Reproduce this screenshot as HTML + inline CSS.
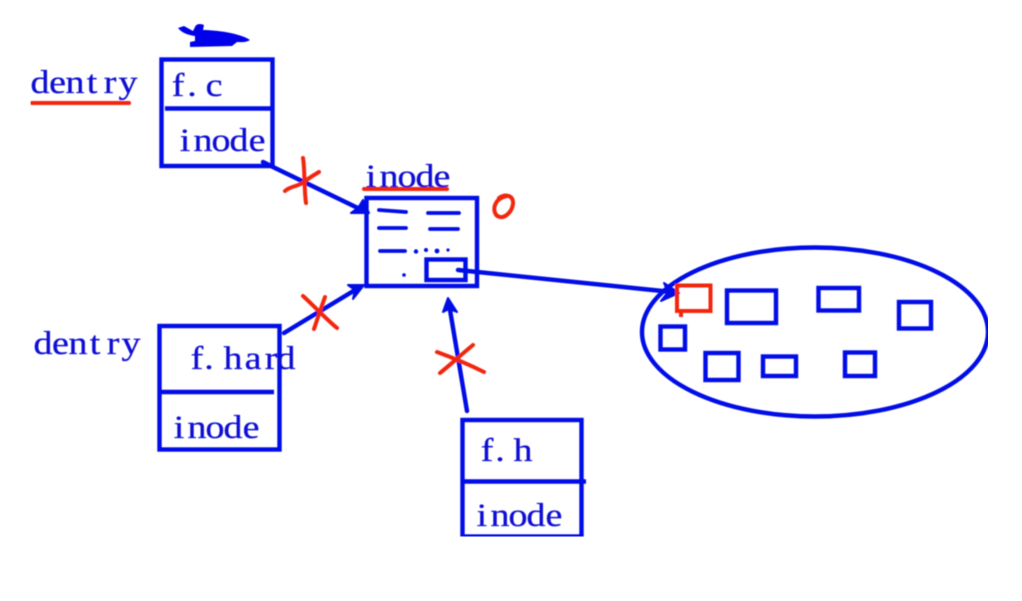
<!DOCTYPE html>
<html><head><meta charset="utf-8"><style>
html,body{margin:0;padding:0;background:#fff;width:1022px;height:601px;overflow:hidden}
svg{display:block}
text{font-family:"Liberation Serif",serif;font-size:33px;fill:#1010d4;stroke:#1010d4;stroke-width:.3px;text-anchor:middle}
</style></head><body>
<svg width="1022" height="601" viewBox="0 0 1022 601">
<defs><filter id="b" x="0" y="0" width="100%" height="100%"><feGaussianBlur stdDeviation="0.55"/></filter></defs>
<rect width="1022" height="601" fill="#fff"/>
<g filter="url(#b)">

<!-- top scribble -->
<path d="M178 28L184 26L193 31L195 27C196 24 200 23 204 25L203 30C215 30 240 33 250 40C245 43 240 42 237 42L232 46L190 47L190 42L195 41L195 36C188 35 182 33 178 28Z" fill="#0000ea"/>

<g fill="none" stroke="#0008e6" stroke-width="4.4">
<!-- f.c -->
<rect x="161.5" y="59.5" width="111" height="106.5"/>
<path d="M165 108.5H272"/>
<!-- f.hard -->
<rect x="159.5" y="326" width="120" height="123.5"/>
<path d="M160 392H274"/>
<!-- f.h -->
<rect x="462.5" y="420" width="119" height="116.5"/>
<path d="M463 481.5H586"/>
<!-- inode -->
<rect x="366.5" y="198" width="110.5" height="88"/>
<rect x="426.5" y="259.5" width="39" height="20.5"/>
<!-- ellipse -->
<ellipse cx="815" cy="332" rx="173" ry="84.5"/>
<!-- small rects -->
<rect x="727" y="290.5" width="49" height="32.5"/>
<rect x="818.5" y="288" width="40.5" height="22.5"/>
<rect x="899" y="302" width="32" height="26.5"/>
<rect x="660.5" y="326.5" width="24.5" height="23"/>
<rect x="705.5" y="353" width="33" height="27"/>
<rect x="763" y="356.5" width="33" height="19.5"/>
<rect x="845" y="352.5" width="30" height="23.5"/>
</g>

<!-- inode inner marks -->
<g fill="none" stroke="#0008e6" stroke-width="3.8" stroke-linecap="round">
<path d="M379 210L406 212M428 213H459M379 228H406M430 229H458M380 251H405"/>
</g>
<g fill="#0008e6">
<circle cx="416" cy="251.5" r="2.2"/><circle cx="426" cy="250" r="2"/><circle cx="437" cy="251" r="2.4"/><circle cx="448" cy="250" r="1.6"/><circle cx="404" cy="275" r="1.8"/>
</g>

<!-- arrows -->
<g fill="none" stroke="#0008e6" stroke-width="4.4" stroke-linecap="round">
<path d="M263 162L273 167L364 211"/>
<path d="M284 333L360 287"/>
<path d="M467 411L449 304"/>
<path d="M458 270L672 292"/>
</g>
<g fill="#0008e6" stroke="#0008e6" stroke-width="2" stroke-linejoin="round">
<path d="M369 213L351 213L358 208L363 200Z"/>
<path d="M364 285L348 285L355 290L353 299Z"/>
<path d="M448 298L443 312L449 309L457 312Z"/>
<path d="M679 293L664 283L668 292L661 301Z"/>
</g>

<!-- red rect -->
<path d="M677 285.5H710.5V311H677ZM681 311V317" fill="none" stroke="#f2250f" stroke-width="4"/>

<!-- red marks -->
<g fill="none" stroke="#f2250f" stroke-width="4" stroke-linecap="round" stroke-linejoin="round">
<path d="M32 103H129"/>
<path d="M364 189H447"/>
<path d="M303 158C305 170 304 190 306 203"/>
<path d="M285 191C290 186 297 187 304 182C310 177 314 175 319 172"/>
<path d="M303 296C312 304 327 320 337 328"/>
<path d="M325 297C321 308 317 320 314 329"/>
<path d="M437 352C448 356 466 363 484 372"/>
<path d="M473 345C462 354 450 365 440 373"/>
<path d="M499 198C506 193 514 196 513 204C512 212 505 218 500 217C494 216 493 208 496 203C498 199 502 197 507 196"/>
</g>

<!-- labels: glyphs widened 15% with per-character placement -->
<g transform="scale(1.15 1)">
<text x="34.8 50 65.2 80 95.7 111.3" y="93">dentry</text>
<text x="154.8 167 186.1" y="96">f.c</text>
<text x="160.9 176.5 192.2 207.8 223.5" y="151">inode</text>
<text x="322.6 338.3 353.9 369.6 384.3" y="187">inode</text>
<text x="37.4 52.6 67.8 82.6 98.3 113.9" y="354">dentry</text>
<text x="171.3 181.7 202.6 220 235.7 248.7" y="369">f.hard</text>
<text x="155.7 171.3 187 202.6 218.3" y="438">inode</text>
<text x="423.5 434.8 454.8" y="461">f.h</text>
<text x="419.1 434.8 450.4 466.1 481.7" y="526">inode</text>
</g>
</g>
</svg>
</body></html>
